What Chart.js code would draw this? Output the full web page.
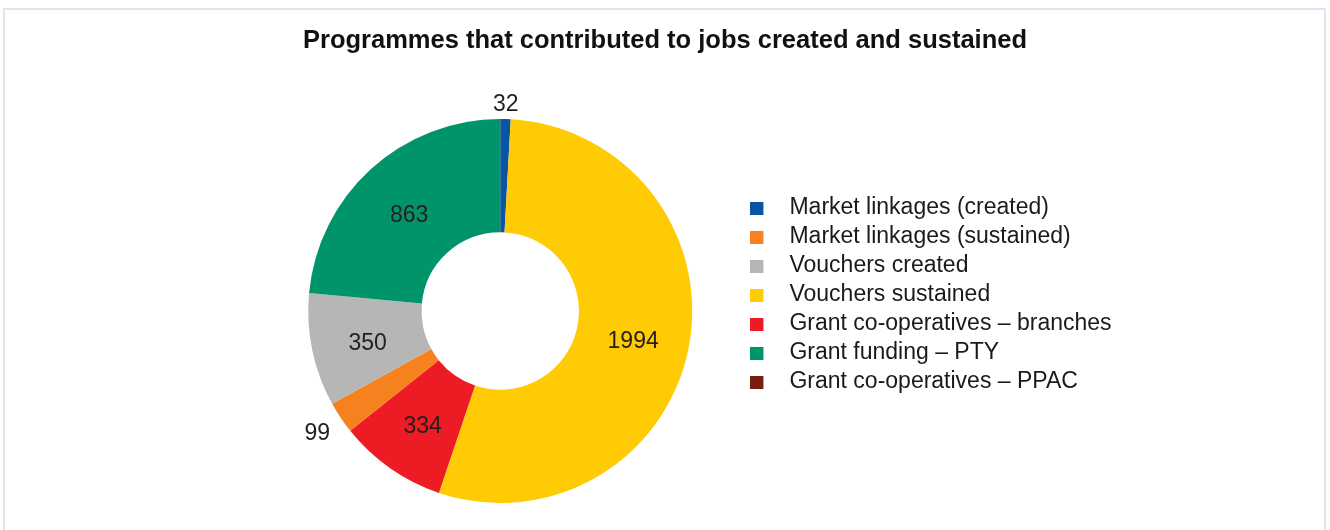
<!DOCTYPE html>
<html>
<head>
<meta charset="utf-8">
<title>Jobs created and sustained</title>
<script src="https://cdn.jsdelivr.net/npm/chart.js@4.4.1/dist/chart.umd.min.js"></script>
<style>
  html, body { margin: 0; padding: 0; background: #fff; overflow: hidden; }
  .frame { position: absolute; left: 3px; top: 8px; width: 1319px; height: 600px; border: 2px solid #e2e4f2; }
  #jobsChart { position: absolute; left: 0; top: 0; }
</style>
</head>
<body>
<div class="frame"></div>
<canvas id="jobsChart" width="1330" height="530"></canvas>
<script>
// slices in the order they run round the ring, clockwise from 12 o'clock
const programmes = [
    "Market linkages (created)",
    "Vouchers sustained",
    "Grant co-operatives – branches",
    "Market linkages (sustained)",
    "Vouchers created",
    "Grant funding – PTY",
    "Grant co-operatives – PPAC",
];
const jobs = [32, 1994, 334, 99, 350, 863, 0];
const sliceColours = ["#0b54a1", "#ffcb05", "#ed1c24", "#f5821f", "#b5b6b5", "#00946a", "#7a1c10"];

// the legend lists the programmes in its own order
const legendOrder = [
    "Market linkages (created)",
    "Market linkages (sustained)",
    "Vouchers created",
    "Vouchers sustained",
    "Grant co-operatives – branches",
    "Grant funding – PTY",
    "Grant co-operatives – PPAC",
];

const FONT = "'Liberation Sans', Arial, Helvetica, sans-serif";

// small square key with some air to its right, used as the legend point style
function swatch(colour) {
    const c = document.createElement("canvas");
    c.width = 32;
    c.height = 13;
    const g = c.getContext("2d");
    g.fillStyle = colour;
    g.fillRect(0, 0, 13, 13);
    return c;
}

// title spans the whole canvas, legend column sits a bit above the ring centre
const placeHeadings = {
    id: "placeHeadings",
    afterLayout(chart) {
        const t = chart.titleBlock;
        t.left = 0;
        t.right = chart.width;
        t.width = chart.width;
        chart.legend.top -= 16;
        chart.legend.bottom -= 16;
    },
};

// value on each slice; thin slices get theirs just outside the rim
const sliceLabels = {
    id: "sliceLabels",
    afterDatasetsDraw(chart) {
        const ctx = chart.ctx;
        const meta = chart.getDatasetMeta(0);
        ctx.save();
        ctx.font = "23px " + FONT;
        ctx.fillStyle = "#231f20";
        ctx.textAlign = "center";
        ctx.textBaseline = "middle";
        meta.data.forEach((arc, i) => {
            const v = jobs[i];
            if (!v) return;
            const text = String(v);
            const { x, y, startAngle, endAngle, outerRadius } = arc.getProps(
                ["x", "y", "startAngle", "endAngle", "outerRadius"], true);
            if (endAngle - startAngle > 0.3) {
                const p = arc.tooltipPosition(true);
                ctx.fillText(text, p.x, p.y + 5);
            } else {
                const mid = (startAngle + endAngle) / 2;
                const w = ctx.measureText(text).width;
                const r = outerRadius + 5 + Math.abs(Math.cos(mid)) * w * 0.85 + Math.abs(Math.sin(mid)) * 9;
                ctx.fillText(text, x + Math.cos(mid) * r, y + Math.sin(mid) * r);
            }
        });
        ctx.restore();
    },
};

const ctx = document.getElementById("jobsChart").getContext("2d");

new Chart(ctx, {
    type: "doughnut",
    data: {
        labels: programmes,
        datasets: [
            {
                data: jobs,
                backgroundColor: sliceColours,
                borderWidth: 0,
            },
        ],
    },
    options: {
        responsive: false,
        animation: false,
        devicePixelRatio: 1,
        events: [],
        radius: 192,
        cutout: "41%",
        layout: {
            padding: { left: 251.5, right: 208.4, top: 0, bottom: 0 },
        },
        plugins: {
            title: {
                display: true,
                text: "Programmes that contributed to jobs created and sustained",
                color: "#111111",
                font: { family: FONT, size: 25.5, weight: "bold", lineHeight: 1.2 },
                padding: { top: 25.7, bottom: 35.7 },
            },
            legend: {
                position: "right",
                fullSize: false,
                align: "center",
                labels: {
                    usePointStyle: true,
                    boxWidth: 23,
                    padding: 6,
                    color: "#1a1a1a",
                    font: { family: FONT, size: 23 },
                    generateLabels(chart) {
                        const items = Chart.overrides.doughnut.plugins.legend.labels.generateLabels(chart);
                        items.forEach((it) => {
                            it.pointStyle = swatch(it.fillStyle);
                            it.lineWidth = 0;
                        });
                        return items;
                    },
                    sort: (a, b) => legendOrder.indexOf(a.text) - legendOrder.indexOf(b.text),
                },
            },
            tooltip: { enabled: false },
        },
    },
    plugins: [placeHeadings, sliceLabels],
});
</script>
</body>
</html>
